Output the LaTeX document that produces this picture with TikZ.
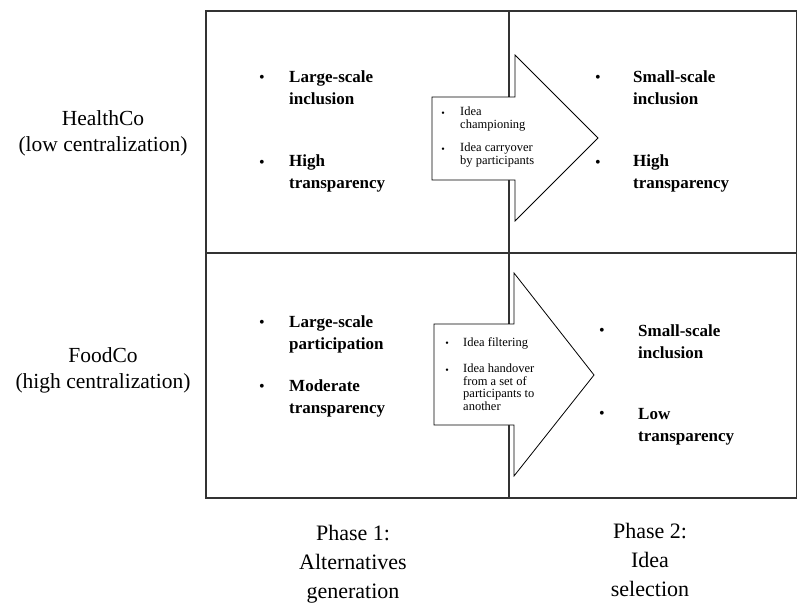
\documentclass[tikz,border=0pt]{standalone}
\usepackage{fontspec}
\setmainfont{Liberation Serif}
\begin{document}
\begin{tikzpicture}[x=1pt,y=-1pt,
  frame/.style={draw=black!80,line width=1.6pt},
  bigarrow/.style={draw=black,line width=0.8pt,fill=white,line join=miter},
  side/.style={font=\fontsize{21.5}{26}\selectfont,align=center,inner sep=0,anchor=base},
  phase/.style={font=\fontsize{22}{29}\selectfont,align=center,inner sep=0,anchor=base},
  item/.style={font=\fontsize{17}{21.5}\selectfont\bfseries,align=left,inner sep=0,anchor=base west},
  dot/.style={font=\fontsize{16}{16}\selectfont,inner sep=0,anchor=base},
  small/.style={font=\fontsize{12.5}{12.5}\selectfont,align=left,inner sep=0,anchor=base west},
  sdot/.style={font=\fontsize{10}{10}\selectfont,inner sep=0,anchor=base}]
\useasboundingbox (0,0) rectangle (797,606);
% frame
\coordinate (TL) at (206,11);
\coordinate (BR) at (797,498);
\coordinate (ML) at (206,253);
\coordinate (MR) at (797,253);
\coordinate (MT) at (509,11);
\coordinate (MB) at (509,498);
\draw[frame] (TL) rectangle (BR);
\draw[frame] (ML) -- (MR);
\draw[frame] (MT) -- (MB);
% upper arrow
\draw[bigarrow] (432,97) -- (515,97) -- (515,55) -- (598,138) -- (515,221) -- (515,180) -- (432,180) -- cycle;
% lower arrow
\draw[bigarrow] (434,324) -- (514,324) -- (514,273) -- (594,375) -- (514,476) -- (514,425) -- (434,425) -- cycle;
% side labels
\node[side] (hc) at (103,151) {HealthCo\\(low centralization)};
\node[side] (fc) at (103,388) {FoodCo\\(high centralization)};
% upper left
\node[dot] (d1) at (262,82) {\textbullet};
\node[item] (t1) at (289,104) {Large-scale\\inclusion};
\node[dot] (d2) at (262,167) {\textbullet};
\node[item] (t2) at (289,188) {High\\transparency};
% upper right
\node[dot] (d3) at (598,82) {\textbullet};
\node[item] (t3) at (633,104) {Small-scale\\inclusion};
\node[dot] (d4) at (598,167) {\textbullet};
\node[item] (t4) at (633,188) {High\\transparency};
% lower left
\node[dot] (d5) at (262,327) {\textbullet};
\node[item] (t5) at (289,349) {Large-scale\\participation};
\node[dot] (d6) at (262,391) {\textbullet};
\node[item] (t6) at (289,413) {Moderate\\transparency};
% lower right
\node[dot] (d7) at (602,335) {\textbullet};
\node[item] (t7) at (638,358) {Small-scale\\inclusion};
\node[dot] (d8) at (602,418) {\textbullet};
\node[item] (t8) at (638,441) {Low\\transparency};
% arrow texts
\node[sdot] (s1) at (443,116) {\textbullet};
\node[small] (a1) at (460,128) {Idea\\championing};
\node[sdot] (s2) at (443,152) {\textbullet};
\node[small] (a2) at (460,164) {Idea carryover\\by participants};
\node[sdot] (s3) at (447,346) {\textbullet};
\node[small] (a3) at (463,346) {Idea filtering};
\node[sdot] (s4) at (447,373) {\textbullet};
\node[small] (a4) at (463,410) {Idea handover\\from a set of\\participants to\\another};
% phases
\node[phase] (p1) at (353,598) {Phase 1:\\Alternatives\\generation};
\node[phase] (p2) at (650,596) {Phase 2:\\Idea\\selection};
\end{tikzpicture}
\end{document}
